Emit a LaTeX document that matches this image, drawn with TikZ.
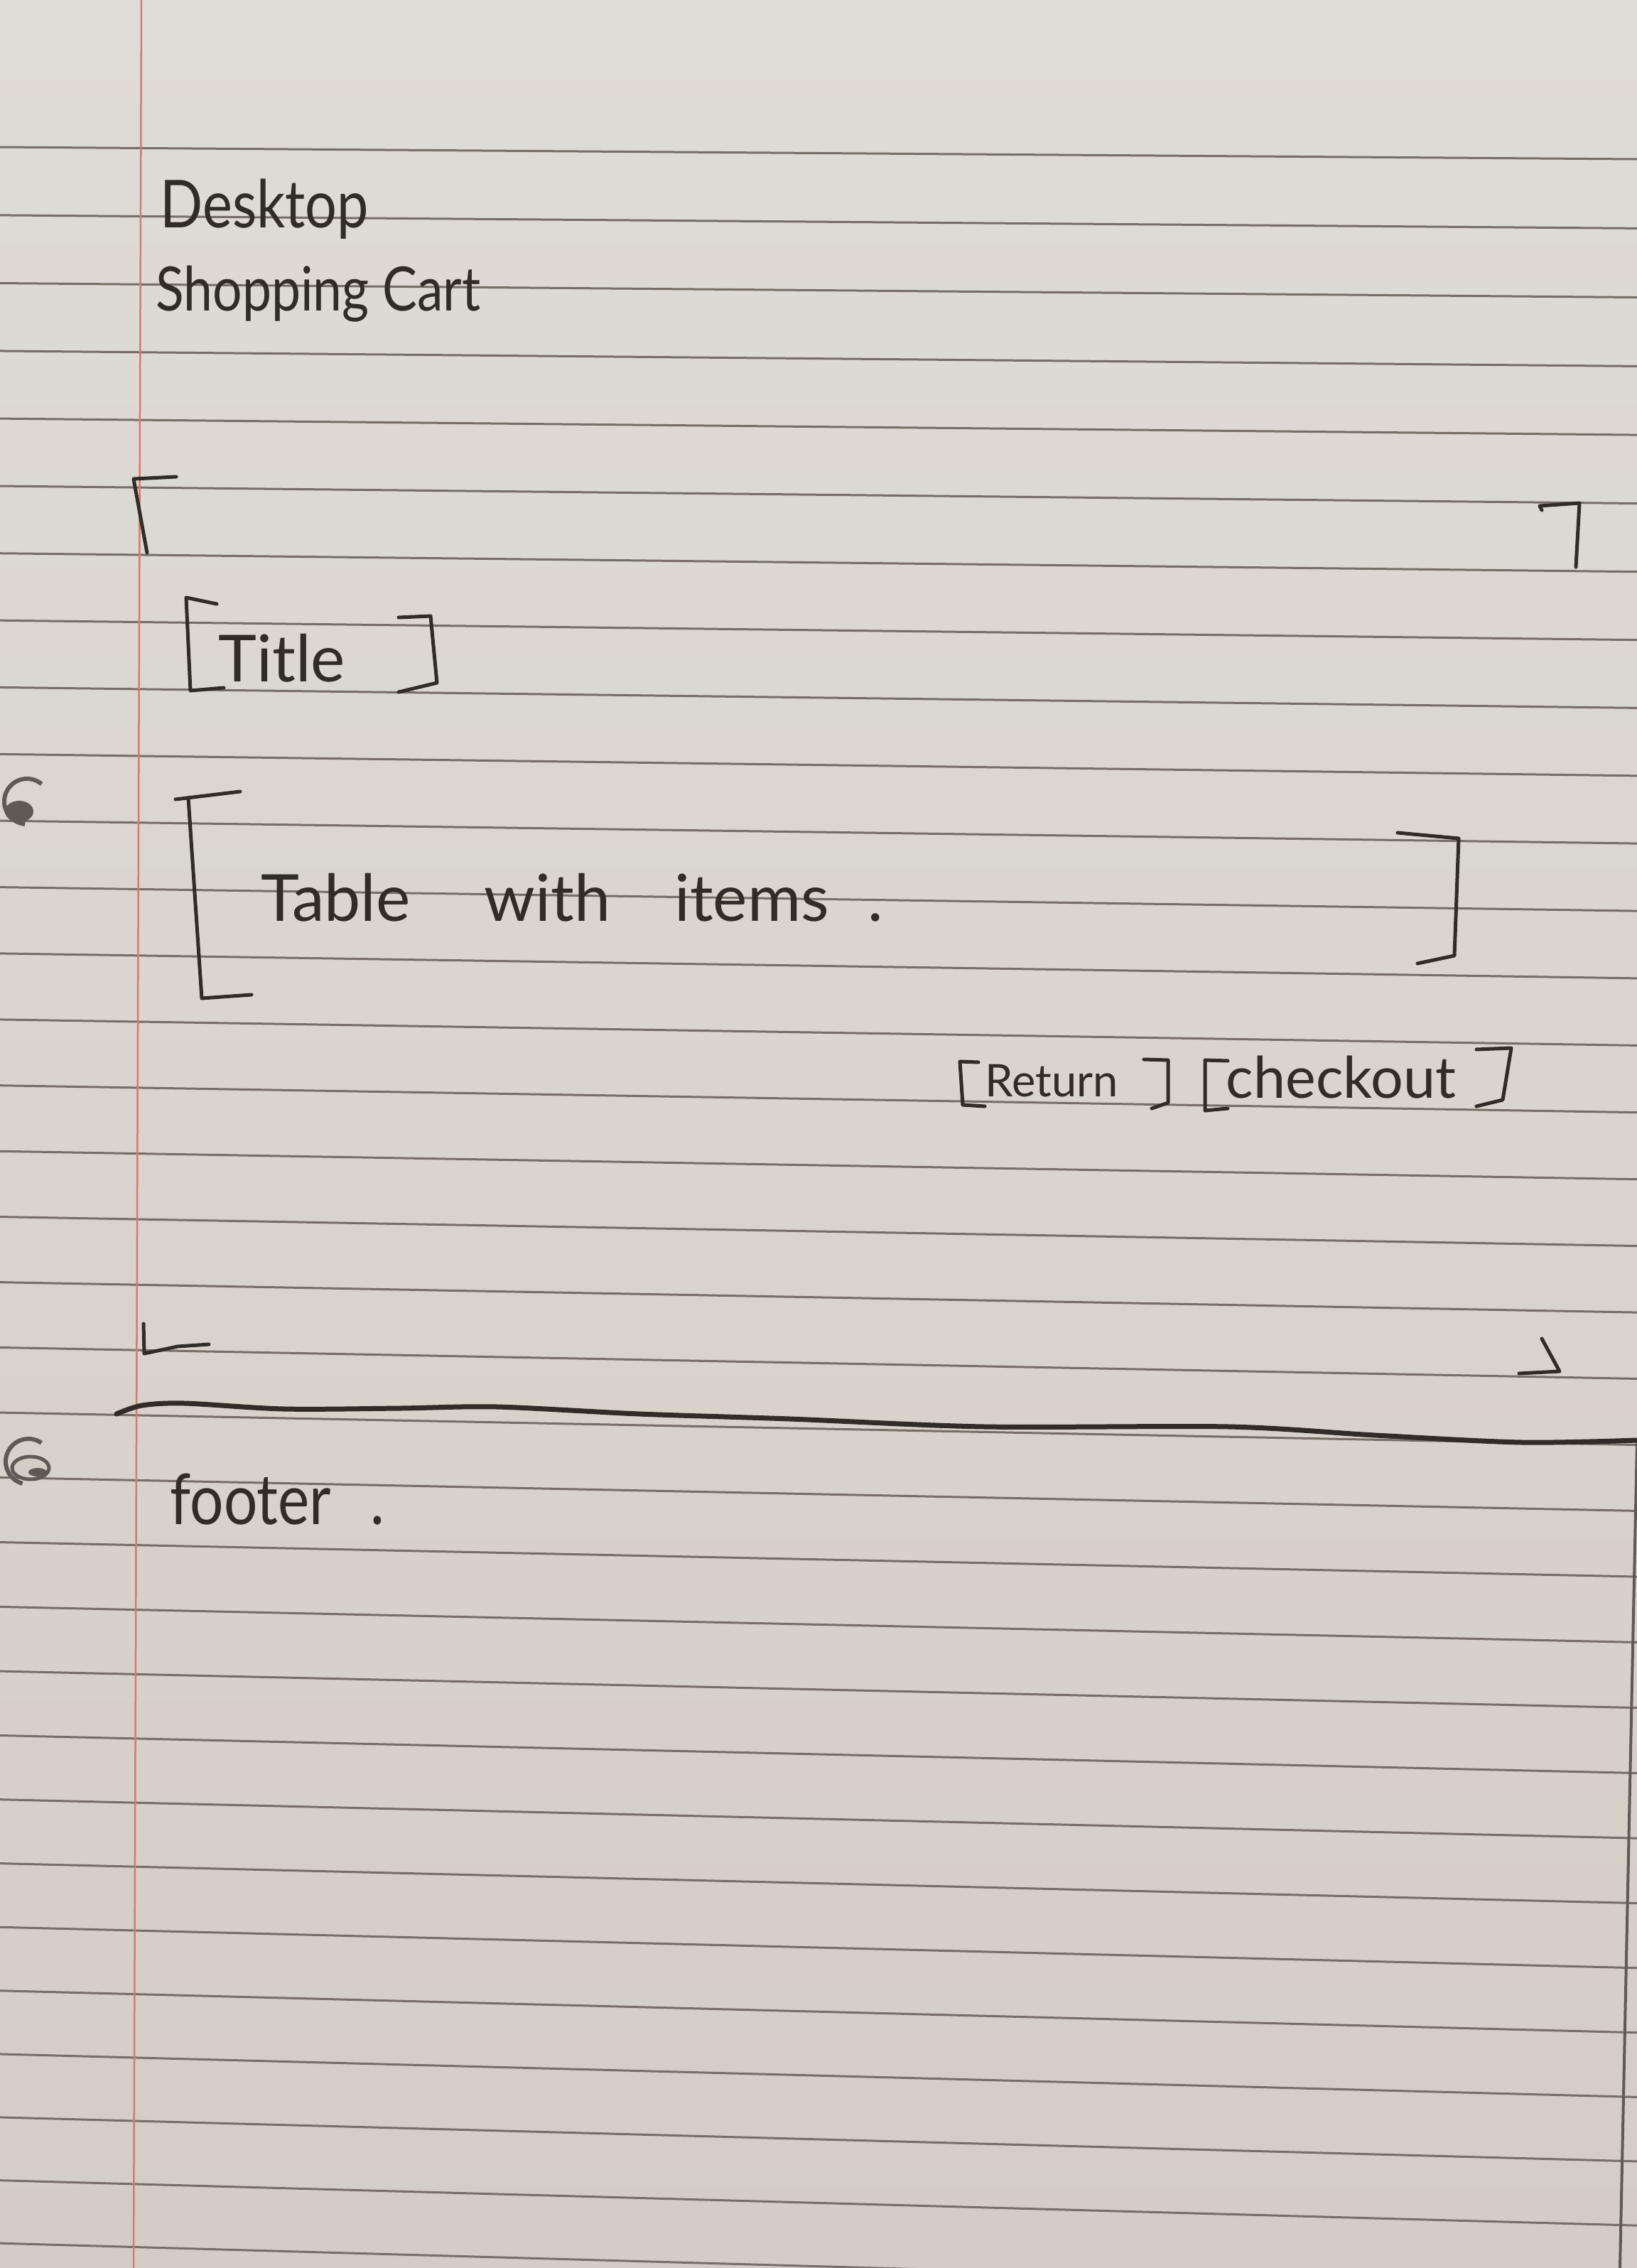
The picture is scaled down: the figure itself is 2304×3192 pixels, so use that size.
\documentclass[tikz,border=0pt]{standalone}
\usepackage{fontspec}
\newfontfamily\handfont{Lato}
\newfontfamily\handnarrow{Lato}[FakeStretch=0.85]
\definecolor{papertop}{RGB}{223,219,214}
\definecolor{paperbot}{RGB}{211,205,197}
\definecolor{rulegrey}{RGB}{118,110,103}
\definecolor{marginred}{RGB}{210,125,112}
\definecolor{ink}{RGB}{50,44,40}
\definecolor{holegrey}{RGB}{95,90,86}
\begin{document}
\begin{tikzpicture}[x=0.1mm, y=-0.1mm,
  rule/.style={draw=rulegrey, line width=0.3mm},
  pen/.style={draw=ink, line width=0.5mm, line cap=round, line join=round},
  handtext/.style={inner sep=0pt, anchor=base west, text=ink}]
\useasboundingbox (0,0) rectangle (2304,3192);
\shade[top color=papertop, bottom color=paperbot] (0,0) rectangle (2304,3192);
% ruled paper
\foreach \k in {0,...,32}
  \draw[rule] (0,{207+96*\k-0.119*\k*\k}) -- (2304,{224+97.5*\k-0.119*\k*\k});
\draw[draw=marginred, line width=0.25mm] (199,0) -- (188,3192);
\draw[draw=holegrey, line width=0.6mm] (38,1128) ++(-50:32) arc[start angle=-50, end angle=-265, radius=32];
\fill[holegrey] (27,1142) ellipse[x radius=20, y radius=15];
\draw[draw=holegrey, line width=0.6mm] (40,2057) ++(-55:32) arc[start angle=-55, end angle=-255, radius=32];
\draw[draw=holegrey, line width=0.5mm, fill=paperbot] (43,2066) ellipse[x radius=26, y radius=16];
\fill[holegrey] (53,2072) ellipse[x radius=13, y radius=6];
\draw[draw=holegrey, line width=0.4mm] (2304,2030) -- (2280,3192);
% heading
\node[handtext, font=\handnarrow\fontsize{26.5}{30}\selectfont] (desktop) at (225,320) {Desktop};
\node[handtext, font=\handnarrow\fontsize{24.5}{28}\selectfont] (cart) at (219,437) {Shopping Cart};
% page corners
\draw[pen] (248,671) -- (188,674) -- (207,778);
\draw[pen] (2170,718) -- (2167,712) -- (2223,708) -- (2218,798);
\draw[pen] (202,1863) -- (203,1905) -- (250,1895) -- (294,1892);
\draw[pen] (2170,1884) -- (2195,1930) -- (2138,1933);
% title
\node[handtext, font=\handfont\fontsize{26}{30}\selectfont] (title) at (307,959) {Title};
\draw[pen] (305,850) -- (262,841) -- (268,972) -- (315,968);
\draw[pen] (561,869) -- (606,867) -- (615,961) -- (561,974);
% table
\node[handtext, font=\handfont\fontsize{26}{30}\selectfont] (items) at (367,1296) {Table\hspace{10.4mm}with\hspace{9mm}items\hspace{5.5mm}.};
\draw[pen] (247,1125) -- (338,1114);
\draw[pen] (265,1123) -- (284,1405) -- (354,1400);
\draw[pen] (1967,1172) -- (2053,1180) -- (2047,1345) -- (1995,1356);
% buttons
\node[handtext, font=\handfont\fontsize{18}{22}\selectfont] (return) at (1386,1543) {Return};
\draw[pen] (1377,1495) -- (1351,1494) -- (1355,1555) -- (1386,1557);
\draw[pen] (1610,1491) -- (1644,1492) -- (1644,1552) -- (1621,1560);
\node[handtext, font=\handfont\fontsize{23}{27}\selectfont] (checkout) at (1725,1545) {checkout};
\draw[pen] (1728,1493) -- (1696,1492) -- (1696,1563) -- (1728,1560);
\draw[pen] (2078,1477) -- (2127,1475) -- (2115,1548) -- (2078,1557);
% footer
\draw[pen, line width=0.7mm] plot[smooth] coordinates {(164,1990) (200,1978) (260,1975) (400,1983) (562,1982) (700,1980) (900,1990) (1112,1997) (1386,2008) (1730,2008) (1936,2020) (2142,2030) (2304,2027)};
\node[handtext, font=\handnarrow\fontsize{28}{32}\selectfont] (footer) at (239,2145) {footer\hspace{5.5mm}.};
\end{tikzpicture}
\end{document}
